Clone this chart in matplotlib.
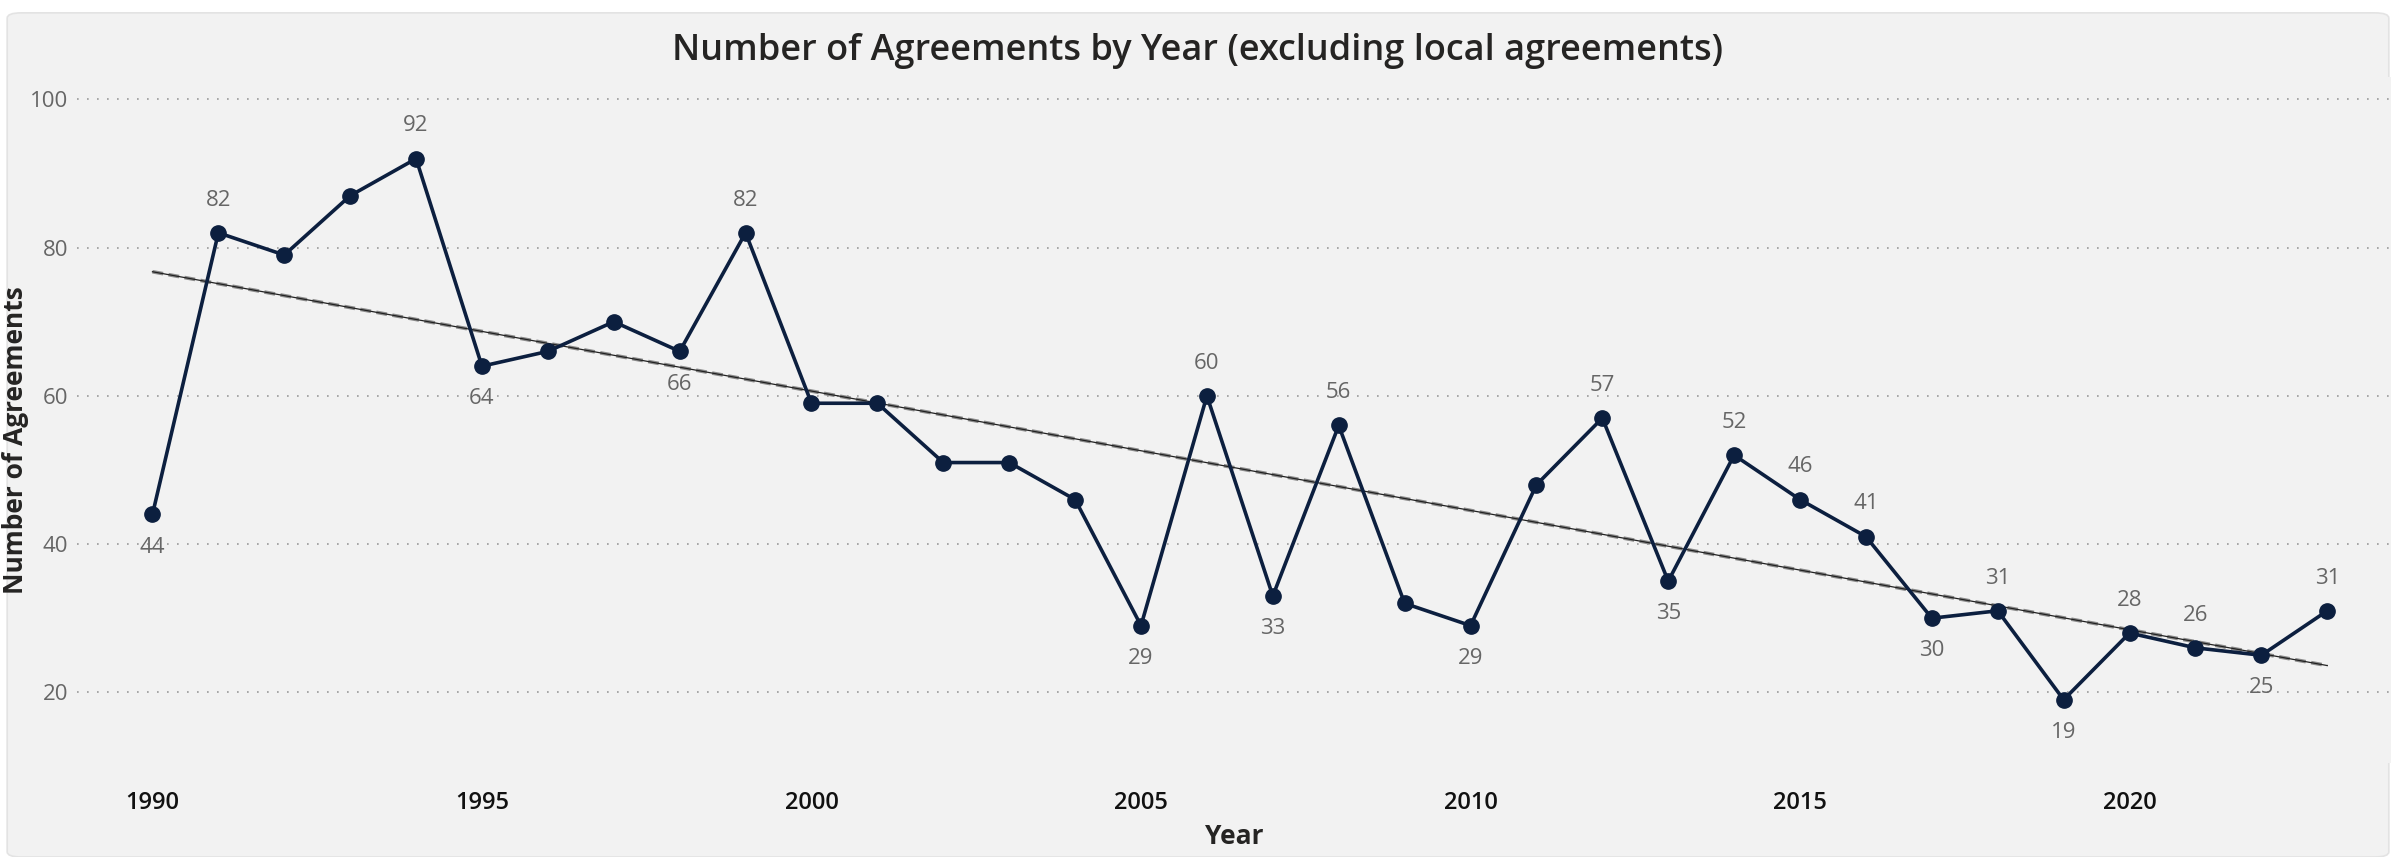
import numpy as np
import matplotlib
matplotlib.use('Agg')
import matplotlib.pyplot as plt
from matplotlib.patches import FancyBboxPatch

years = list(range(1990, 2024))
agreements = [44, 82, 79, 87, 92, 64, 66, 70, 66, 82,
              59, 59, 51, 51, 46, 29, 60, 33, 56, 32,
              29, 48, 57, 35, 52, 46, 41, 30, 31, 19,
              28, 26, 25, 31]

# which points get a value label, and on which side
label_above = {1991: True, 1994: True, 1999: True, 2006: True, 2008: True,
               2012: True, 2014: True, 2015: True, 2016: True, 2018: True,
               2020: True, 2021: True, 2023: True,
               1990: False, 1995: False, 1998: False, 2005: False, 2007: False,
               2010: False, 2013: False, 2017: False, 2019: False, 2022: False}

x_ticks = [1990, 1995, 2000, 2005, 2010, 2015, 2020]
y_ticks = [20, 40, 60, 80, 100]

plt.rcParams['font.family'] = ['Open Sans', 'DejaVu Sans']

fig = plt.figure(figsize=(23.96, 8.57), dpi=100)
fig.patch.set_facecolor('white')
card = FancyBboxPatch((0.003, 0.0), 0.994, 0.985, boxstyle='round,pad=0,rounding_size=0.006',
                      transform=fig.transFigure, facecolor='#f2f2f2', edgecolor='#e3e3e3',
                      linewidth=1.2, zorder=-10)
fig.patches.append(card)

ax = fig.add_axes([0.032, 0.11, 0.966, 0.8])
ax.set_facecolor('#f2f2f2')
for s in ax.spines.values():
    s.set_visible(False)

# linear trend
coef = np.polyfit(years, agreements, 1)
trend = np.polyval(coef, [years[0], years[-1]])
ax.plot([years[0], years[-1]], trend, color='#8a8a8a', linewidth=2.6, linestyle=(0, (3, 1.5)), zorder=2)
ax.plot([years[0], years[-1]], trend, color='#222222', linewidth=0.9, zorder=2)

ax.plot(years, agreements, color='#0c1f3f', linewidth=2.6, marker='o', markersize=11, zorder=3)

for yr, v in zip(years, agreements):
    if yr in label_above:
        up = label_above[yr]
        ax.annotate(str(v), (yr, v), xytext=(0, 16 if up else -16), textcoords='offset points',
                    ha='center', va='bottom' if up else 'top', fontsize=16, color='#666666')

ax.set_xlim(1988.85, 2023.97)
ax.set_ylim(10.5, 103)
ax.set_xticks(x_ticks)
ax.set_yticks(y_ticks)
ax.tick_params(axis='both', length=0)
ax.tick_params(axis='x', labelsize=17, labelcolor='#111111', pad=20)
ax.tick_params(axis='y', labelsize=16, labelcolor='#666666', pad=6)
for lab in ax.get_xticklabels():
    lab.set_fontweight('semibold')
ax.yaxis.grid(True, linestyle=(0, (1, 5)), color='#9a9a9a', linewidth=1.2)
ax.set_axisbelow(True)

ax.set_xlabel('Year', fontsize=19, color='#252423', fontweight='bold', labelpad=6)
ax.set_ylabel('Number of Agreements', fontsize=19, color='#252423', fontweight='bold')
ax.yaxis.set_label_coords(-0.0205, 0.47)

fig.text(0.5, 0.94, 'Number of Agreements by Year (excluding local agreements)', ha='center',
         va='center', fontsize=26, color='#252423', fontweight='semibold')

fig.savefig('out.png', dpi=100, facecolor=fig.get_facecolor())
